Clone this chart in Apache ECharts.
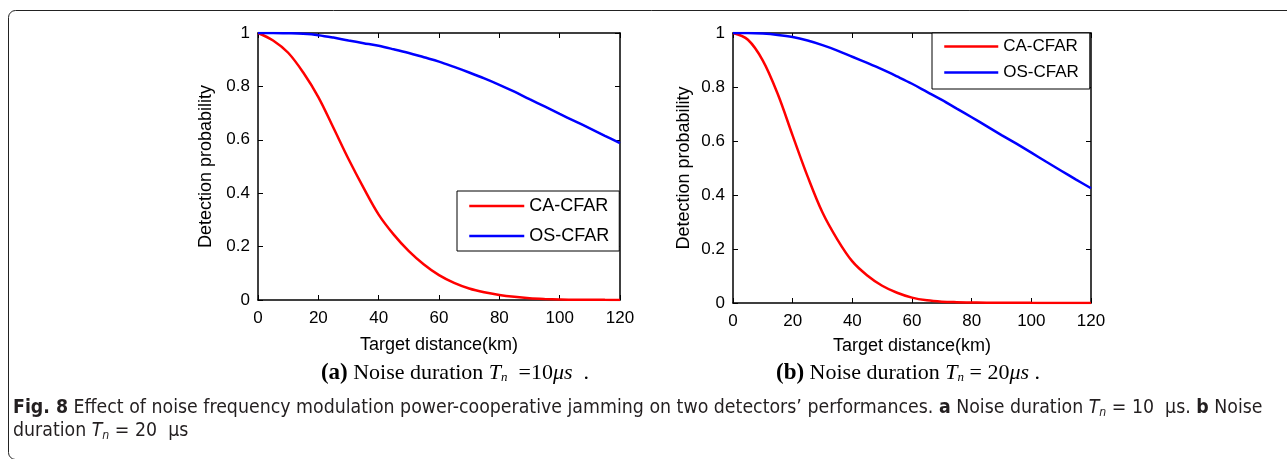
<!DOCTYPE html>
<html>
<head>
<meta charset="utf-8">
<script src="https://cdn.jsdelivr.net/npm/echarts@6/dist/echarts.min.js"></script>
<style>
html,body{margin:0;padding:0;background:#fff;}
#c{width:1287px;height:459px;}
</style>
</head>
<body>
<div id="c"></div>
<script>
// distance (km)
const distanceKm = [0,5,10,15,20,25,30,35,40,45,50,55,60,65,70,75,80,85,90,95,100,105,110,115,120];
// (a) Tn = 10 us
const caCfarA = [1.0,0.972,0.926,0.852,0.76,0.645,0.528,0.42,0.32,0.245,0.183,0.133,0.093,0.064,0.043,0.029,0.019,0.012,0.007,0.004,0.002,0.001,0.001,0.0005,0.0003];
const osCfarA = [1.0,1.0,0.999,0.997,0.992,0.983,0.972,0.962,0.952,0.939,0.925,0.909,0.893,0.873,0.852,0.83,0.806,0.78,0.752,0.725,0.697,0.67,0.643,0.615,0.588];
// (b) Tn = 20 us
const caCfarB = [1.0,0.975,0.898,0.774,0.62,0.469,0.335,0.235,0.154,0.102,0.064,0.038,0.02,0.01,0.005,0.003,0.002,0.001,0.001,0.001,0.0005,0.0004,0.0003,0.0003,0.0003];
const osCfarB = [1.0,1.0,0.998,0.993,0.985,0.972,0.955,0.935,0.912,0.889,0.865,0.839,0.812,0.782,0.752,0.72,0.688,0.655,0.622,0.59,0.557,0.523,0.49,0.457,0.425];
const xTicks = {min:0, max:120, interval:20};
const yTicks = {min:0, max:1, interval:0.2};
const seriesNames = ['CA-CFAR','OS-CFAR'];
const xName = 'Target distance(km)';
const yName = 'Detection probability';

const pair = (xs, ys) => xs.map((x,i)=>[x, ys[i]]);
const SANS = 'Liberation Sans, Arial, sans-serif';
const SERIF = 'Liberation Serif, Times New Roman, serif';
const CAP = 'DejaVu Sans Condensed, Noto Sans, sans-serif';

const chart = echarts.init(document.getElementById('c'), null, {renderer:'canvas'});

function xAxes(gi, nameGap){
  return [
    {gridIndex:gi, type:'value', min:xTicks.min, max:xTicks.max, interval:xTicks.interval,
     name:xName, nameLocation:'middle', nameGap:nameGap,
     nameTextStyle:{fontFamily:SANS, fontSize:18, color:'#000'},
     axisLine:{onZero:false, lineStyle:{color:'#000', width:1.5}},
     axisTick:{inside:true, length:5, lineStyle:{color:'#000'}},
     axisLabel:{margin:10, fontFamily:SANS, fontSize:17, color:'#000'},
     splitLine:{show:false}},
    {gridIndex:gi, type:'value', position:'top', min:xTicks.min, max:xTicks.max, interval:xTicks.interval,
     axisLine:{onZero:false, lineStyle:{color:'#000', width:1.5}},
     axisTick:{inside:true, length:5, lineStyle:{color:'#000'}},
     axisLabel:{show:false}, splitLine:{show:false}}
  ];
}
function yAxes(gi, nameGap){
  return [
    {gridIndex:gi, type:'value', min:yTicks.min, max:yTicks.max, interval:yTicks.interval,
     name:yName, nameLocation:'middle', nameGap:nameGap,
     nameTextStyle:{fontFamily:SANS, fontSize:18, color:'#000'},
     axisLine:{show:true, onZero:false, lineStyle:{color:'#000', width:1.5}},
     axisTick:{show:true, inside:true, length:5, lineStyle:{color:'#000'}},
     axisLabel:{margin:8, fontFamily:SANS, fontSize:17, color:'#000'},
     splitLine:{show:false}},
    {gridIndex:gi, type:'value', position:'right', min:yTicks.min, max:yTicks.max, interval:yTicks.interval,
     axisLine:{show:true, onZero:false, lineStyle:{color:'#000', width:1.5}},
     axisTick:{show:true, inside:true, length:5, lineStyle:{color:'#000'}},
     axisLabel:{show:false}, splitLine:{show:false}}
  ];
}
function line(name, data, color, xi, yi){
  return {type:'line', name:name, xAxisIndex:xi, yAxisIndex:yi, data:data,
    symbol:'none', showSymbol:false, smooth:0.35, animation:false,
    lineStyle:{color:color, width:2.5}, itemStyle:{color:color}, z:3};
}

const subCap = () => ({
  b:{fontFamily:SERIF, fontSize:23, fontWeight:'bold', color:'#000'},
  i:{fontFamily:SERIF, fontSize:22, fontStyle:'italic', color:'#000'},
  s:{fontFamily:SERIF, fontSize:13, fontStyle:'italic', color:'#000', padding:[10,0,0,0]}
});
const figRich = {
  b:{fontFamily:CAP, fontSize:19, fontWeight:'bold', color:'#231f20'},
  i:{fontFamily:CAP, fontSize:19, fontStyle:'italic', color:'#231f20'},
  s:{fontFamily:CAP, fontSize:12, fontStyle:'italic', color:'#231f20', padding:[9,0,0,0]}
};
const figFont = {fontFamily:CAP, fontSize:19, fill:'#231f20'};

const legendBase = {orient:'vertical', backgroundColor:'#fff', borderColor:'#000', borderWidth:1,
  selectedMode:false, itemStyle:{opacity:0}, lineStyle:{width:2.5}};

const option = {
  animation:false,
  backgroundColor:'#fff',
  grid:[
    {left:258, top:33, width:362, height:267},
    {left:733, top:33, width:358, height:270}
  ],
  xAxis:[...xAxes(0,36), ...xAxes(1,34)],
  yAxis:[...yAxes(0,43), ...yAxes(1,40)],
  legend:[
    Object.assign({data:seriesNames, left:457, top:191, padding:[6,10,6,11],
     itemWidth:55, itemHeight:14, itemGap:12,
     textStyle:{fontFamily:SANS, fontSize:18, color:'#000'}}, legendBase),
    Object.assign({data:seriesNames, left:932, top:33, padding:[5,11,8,11],
     itemWidth:54, itemHeight:14, itemGap:9,
     textStyle:{fontFamily:SANS, fontSize:17, color:'#000'}}, legendBase)
  ],
  series:[
    line(seriesNames[0], pair(distanceKm, caCfarA), '#ff0000', 0, 0),
    line(seriesNames[1], pair(distanceKm, osCfarA), '#0000ff', 0, 0),
    line(seriesNames[0], pair(distanceKm, caCfarB), '#ff0000', 2, 2),
    line(seriesNames[1], pair(distanceKm, osCfarB), '#0000ff', 2, 2)
  ],
  graphic:[
    {type:'rect', shape:{x:8.5, y:10.5, width:1300, height:449, r:7}, silent:true,
     style:{fill:'none', stroke:'#222', lineWidth:1}},
    {type:'text', x:455, y:373, style:{text:'{b|(a)} Noise duration {i|T}{s|n}  =10{i|μs}  .', rich:subCap(),
      fontFamily:SERIF, fontSize:22, fill:'#000', align:'center', verticalAlign:'middle'}},
    {type:'text', x:908, y:373, style:{text:'{b|(b)} Noise duration {i|T}{s|n} = 20{i|μs} .', rich:subCap(),
      fontFamily:SERIF, fontSize:22, fill:'#000', align:'center', verticalAlign:'middle'}},
    {type:'text', x:13, y:408, scaleX:1.018, style:Object.assign({text:'{b|Fig. 8} Effect of noise frequency modulation power-cooperative jamming on two detectors’ performances. {b|a} Noise duration {i|T}{s|n} = 10  μs. {b|b} Noise', rich:figRich, align:'left', verticalAlign:'middle'}, figFont)},
    {type:'text', x:13, y:431, scaleX:1.018, style:Object.assign({text:'duration {i|T}{s|n} = 20  μs', rich:figRich, align:'left', verticalAlign:'middle'}, figFont)}
  ]
};
chart.setOption(option);
</script>
</body>
</html>
